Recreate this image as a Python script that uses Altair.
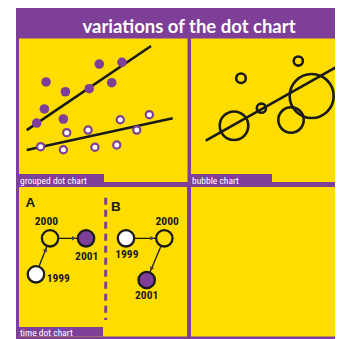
import math
import altair as alt
import pandas as pd

PURPLE = "#7E3F98"
YELLOW = "#FFDD00"
NARROW = "Liberation Sans Narrow, Roboto Condensed, DejaVu Sans Condensed, sans-serif"

TITLE = "variations of the dot chart"
PANEL_LABELS = ["grouped dot chart", "bubble chart", "time dot chart"]

# ---- grouped dot chart (values on a 0-10 grid) ----
grp_a_x = [1.61, 4.78, 6.13, 2.76, 4.18, 5.52, 1.51, 1.05, 2.64]
grp_a_y = [6.97, 8.22, 8.34, 6.29, 6.50, 6.92, 5.09, 4.11, 4.39]
grp_b_x = [1.29, 2.64, 2.84, 4.11, 4.52, 5.82, 6.03, 7.01, 7.76]
grp_b_y = [2.46, 2.25, 3.44, 3.62, 2.42, 2.58, 4.34, 3.62, 4.69]
trend_group = ["a", "a", "b", "b"]
trend_x = [0.46, 7.86, 0.46, 9.15]
trend_y = [3.62, 9.48, 2.23, 4.44]

# ---- bubble chart ----
bub_x = [3.29, 7.06, 4.63, 2.83, 6.58, 7.94]
bub_y = [7.23, 8.43, 5.14, 3.92, 4.32, 5.99]
bub_size = [2.3, 2.1, 2.1, 20.4, 16.1, 48.4]
bub_trend_x = [0.97, 9.91]
bub_trend_y = [2.88, 8.22]

# ---- time dot chart ----
time_group = ["A", "A", "A", "B", "B", "B"]
time_year = ["1999", "2000", "2001", "1999", "2000", "2001"]
time_x = [1.01, 1.85, 3.99, 6.37, 8.65, 7.60]
time_y = [4.16, 6.57, 6.57, 6.57, 6.57, 3.78]
label_x = [2.34, 1.63, 4.03, 6.42, 8.82, 7.60]
label_y = [3.86, 7.63, 5.33, 5.46, 7.63, 2.74]
letter = ["A", "B"]
letter_x = [0.68, 5.76]
letter_y = [8.64, 8.39]
divider_x = [5.16]
divider_y = [9.28]
divider_y2 = [1.10]

W, H = 327, 331
DOM = [0, 10]
TL_X = [11, 179]
TL_Y = [174, 30.5]
TR_X = [183, 335]
TR_Y = [174, 30.5]
BOT = 328.5
BL_X = [11, 179]
BL_Y = [BOT, 179]


def X(field, rng):
    return alt.X(field, type="quantitative", axis=None,
                 scale=alt.Scale(domain=DOM, range=rng, nice=False, zero=False))


def Y(field, rng):
    return alt.Y(field, type="quantitative", axis=None,
                 scale=alt.Scale(domain=DOM, range=rng, nice=False, zero=False))


one = pd.DataFrame({"k": [0]})


def box(x0, x1, y0, y1, color):
    return alt.Chart(one).mark_rect(color=color, opacity=1).encode(
        x=alt.value(x0), x2=alt.value(x1), y=alt.value(y0), y2=alt.value(y1))


def label(txt, x, y):
    return alt.Chart(one).mark_text(
        text=txt, font=NARROW, fontSize=9.5, color="white",
        align="left", baseline="alphabetic").encode(x=alt.value(x), y=alt.value(y))


frame = box(8, W, 0, H, PURPLE)
title = alt.Chart(one).mark_text(
    text=TITLE, font="Lato", fontWeight="bold", fontSize=18.5, color="white",
    align="center", baseline="alphabetic").encode(x=alt.value(181), y=alt.value(24.5))
panels = [
    box(11, 179.5, 30.5, 174, YELLOW),
    box(183, W, 30.5, 174, YELLOW),
    box(11, 179, 179, BOT, YELLOW),
    box(183, W, 179, BOT, YELLOW),
]
bars = [
    box(11, 96, 166, 174, PURPLE),
    box(183, 264, 166, 174, PURPLE),
    box(11, 95, BOT - 9.5, BOT, PURPLE),
]
labels = [
    label(PANEL_LABELS[0], 12, 176),
    label(PANEL_LABELS[1], 184, 176),
    label(PANEL_LABELS[2], 12, BOT - 1),
]

# grouped
df_a = pd.DataFrame({"x": grp_a_x, "y": grp_a_y})
df_b = pd.DataFrame({"x": grp_b_x, "y": grp_b_y})
df_t = pd.DataFrame({"g": trend_group, "x": trend_x, "y": trend_y})
tl_lines = alt.Chart(df_t).mark_line(color="#1a1a1a", strokeWidth=2.6).encode(
    x=X("x", TL_X), y=Y("y", TL_Y), detail="g:N")
tl_filled = alt.Chart(df_a).mark_circle(color=PURPLE, opacity=1, size=92).encode(
    x=X("x", TL_X), y=Y("y", TL_Y))
tl_open = alt.Chart(df_b).mark_circle(fill="white", stroke=PURPLE, strokeWidth=2.2,
                                      size=52, opacity=1).encode(
    x=X("x", TL_X), y=Y("y", TL_Y))

# bubble
df_bub = pd.DataFrame({"x": bub_x, "y": bub_y, "s": bub_size})
df_bt = pd.DataFrame({"x": bub_trend_x, "y": bub_trend_y})
tr_line = alt.Chart(df_bt).mark_line(color="#1a1a1a", strokeWidth=2.6).encode(
    x=X("x", TR_X), y=Y("y", TR_Y))
tr_bub = alt.Chart(df_bub).mark_point(shape="circle", filled=False, color="#1a1a1a",
                                      strokeWidth=2.6, opacity=1).encode(
    x=X("x", TR_X), y=Y("y", TR_Y),
    size=alt.Size("s:Q", legend=None, scale=alt.Scale(domain=[0, 50], range=[0, 2000])))

# time
df_time = pd.DataFrame({"g": time_group, "year": time_year, "x": time_x, "y": time_y,
                        "lx": label_x, "ly": label_y})
PX_X = (BL_X[1] - BL_X[0]) / (DOM[1] - DOM[0])
PX_Y = (BL_Y[0] - BL_Y[1]) / (DOM[1] - DOM[0])
HEAD_GAP = 12.0
rows = []
for grp in ["A", "B"]:
    sub = df_time[df_time.g == grp].sort_values("year").reset_index(drop=True)
    for i in range(len(sub) - 1):
        s, t = sub.iloc[i], sub.iloc[i + 1]
        dxp = (t.x - s.x) * PX_X
        dyp = -(t.y - s.y) * PX_Y
        L = math.hypot(dxp, dyp)
        hx = t.x - dxp / L * HEAD_GAP / PX_X
        hy = t.y + dyp / L * HEAD_GAP / PX_Y
        ang = math.degrees(math.atan2(dyp, dxp)) % 360
        rows.append({"x": s.x, "y": s.y, "x2": t.x, "y2": t.y,
                     "hx": hx, "hy": hy, "ang": ang})
df_arr = pd.DataFrame(rows)
df_div = pd.DataFrame({"x": divider_x, "y": divider_y, "y2": divider_y2})
df_let = pd.DataFrame({"t": letter, "x": letter_x, "y": letter_y})

bl_div = alt.Chart(df_div).mark_rule(color=PURPLE, strokeWidth=3, strokeDash=[7, 5]).encode(
    x=X("x", BL_X), y=Y("y", BL_Y), y2="y2")
bl_shaft = alt.Chart(df_arr).mark_rule(color="#1a1a1a", strokeWidth=1.3).encode(
    x=X("x", BL_X), y=Y("y", BL_Y), x2="x2", y2="y2")
bl_head = alt.Chart(df_arr).mark_point(shape="triangle-right", filled=True, color="#444444",
                                       size=22, opacity=1).encode(
    x=X("hx", BL_X), y=Y("hy", BL_Y), angle=alt.Angle("ang:Q", scale=None))
bl_dots = alt.Chart(df_time).mark_circle(stroke="#1a1a1a", strokeWidth=2.3, size=269,
                                         opacity=1).encode(
    x=X("x", BL_X), y=Y("y", BL_Y),
    fill=alt.Fill("year:N", legend=None,
                  scale=alt.Scale(domain=["1999", "2000", "2001"],
                                  range=["white", YELLOW, PURPLE])))
bl_text = alt.Chart(df_time).mark_text(font=NARROW, fontWeight="bold", fontSize=11.5,
                                       color="#1a1a1a", align="center",
                                       baseline="middle").encode(
    x=X("lx", BL_X), y=Y("ly", BL_Y), text="year:N")
bl_let = alt.Chart(df_let).mark_text(font="Liberation Sans", fontWeight="bold", fontSize=13.5,
                                     color="#1a1a1a", align="center",
                                     baseline="alphabetic").encode(
    x=X("x", BL_X), y=Y("y", BL_Y), text="t:N")

chart = alt.layer(
    frame, title, *panels, *bars, *labels,
    tl_lines, tl_filled, tl_open,
    tr_line, tr_bub,
    bl_div, bl_shaft, bl_head, bl_dots, bl_text, bl_let,
).resolve_scale(
    x="independent", y="independent", size="independent", fill="independent"
).properties(
    width=W, height=H, padding=0, autosize="none", background="white"
).configure_view(stroke=None)

chart.save("out.html", embed_options={"renderer": "svg", "actions": False})
